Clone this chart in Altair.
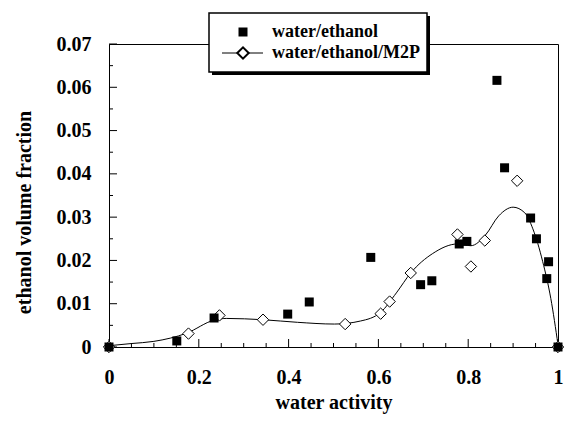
import altair as alt
import pandas as pd

# water/ethanol (filled squares)
sq_x = [0, 0.151, 0.234, 0.398, 0.446, 0.583, 0.694, 0.719, 0.780, 0.797, 0.864, 0.881, 0.939, 0.952, 0.975, 0.979, 1.0]
sq_y = [0, 0.0014, 0.0067, 0.0076, 0.0104, 0.0207, 0.0144, 0.0153, 0.0238, 0.0244, 0.0616, 0.0414, 0.0298, 0.0250, 0.0158, 0.0197, 0.0]

# water/ethanol/M2P (open diamonds)
dia_x = [0, 0.177, 0.246, 0.343, 0.526, 0.605, 0.625, 0.672, 0.776, 0.806, 0.837, 0.909, 1.0]
dia_y = [0, 0.0031, 0.0073, 0.0063, 0.0053, 0.0077, 0.0105, 0.0171, 0.0260, 0.0186, 0.0246, 0.0384, 0.0]

# fitted curve for water/ethanol/M2P
cur_x = [0, 0.05, 0.1, 0.173, 0.234, 0.261, 0.343, 0.42, 0.502, 0.56, 0.605, 0.64, 0.672, 0.721, 0.776,
         0.806, 0.838, 0.868, 0.90, 0.926, 0.944, 0.966, 0.984, 1.0]
cur_y = [0.0003, 0.0008, 0.0013, 0.0032, 0.0062, 0.0066, 0.0063, 0.0057, 0.0053, 0.0060, 0.0080, 0.0125,
         0.0171, 0.0216, 0.0238, 0.0234, 0.0258, 0.0303, 0.0323, 0.0310, 0.0273, 0.0197, 0.0112, 0.0005]

x_major = [0, 0.2, 0.4, 0.6, 0.8, 1.0]
x_minor = [0.05, 0.1, 0.15, 0.25, 0.3, 0.35, 0.45, 0.5, 0.55, 0.65, 0.7, 0.75, 0.85, 0.9, 0.95]
y_major = [0, 0.01, 0.02, 0.03, 0.04, 0.05, 0.06, 0.07]
y_minor = [0.005, 0.015, 0.025, 0.035, 0.045, 0.055, 0.065]

legend_labels = ["water/ethanol", "water/ethanol/M2P"]

W, H = 449, 303
L0, T0 = 101, 36
FONT = "Liberation Serif"

sq = pd.DataFrame({"x": sq_x, "y": sq_y})
dia = pd.DataFrame({"x": dia_x, "y": dia_y})
cur = pd.DataFrame({"x": cur_x, "y": cur_y})

xs = alt.Scale(domain=[0, 1], nice=False)
ys = alt.Scale(domain=[0, 0.07], nice=False)

xaxis = alt.Axis(values=x_major, format="~g", title="water activity", ticks=False, grid=False,
                 labelFont=FONT, labelFontSize=20, labelFontWeight="bold", labelColor="black",
                 labelPadding=20, titleFont=FONT, titleFontSize=20, titleFontWeight="bold",
                 titleColor="black", titlePadding=5, domainColor="black", labelFlush=False)
yaxis = alt.Axis(values=y_major, format="~g", title="ethanol volume fraction", ticks=False, grid=False,
                 labelFont=FONT, labelFontSize=20, labelFontWeight="bold", labelColor="black",
                 labelPadding=18, titleFont=FONT, titleFontSize=20, titleFontWeight="bold",
                 titleColor="black", titlePadding=22, titleY=168, domainColor="black", labelFlush=False)

line = alt.Chart(cur).mark_line(color="black", strokeWidth=1, interpolate="monotone").encode(
    x=alt.X("x:Q", scale=xs, axis=xaxis),
    y=alt.Y("y:Q", scale=ys, axis=yaxis),
)
diam = alt.Chart(dia).mark_point(shape="diamond", filled=True, fill="white", stroke="black",
                                 strokeWidth=1, size=130, opacity=1).encode(
    x=alt.X("x:Q", scale=xs), y=alt.Y("y:Q", scale=ys))
squares = alt.Chart(sq).mark_point(shape="square", filled=True, color="black", size=81, opacity=1).encode(
    x=alt.X("x:Q", scale=xs), y=alt.Y("y:Q", scale=ys))

xmaj = alt.Chart(pd.DataFrame({"t": x_major})).mark_rule(color="black").encode(
    x=alt.X("t:Q", scale=xs), y=alt.value(H), y2=alt.value(H - 8))
xmin = alt.Chart(pd.DataFrame({"t": x_minor})).mark_rule(color="black").encode(
    x=alt.X("t:Q", scale=xs), y=alt.value(H), y2=alt.value(H - 4))
ymaj = alt.Chart(pd.DataFrame({"t": y_major})).mark_rule(color="black").encode(
    y=alt.Y("t:Q", scale=ys), x=alt.value(0), x2=alt.value(8))
ymin = alt.Chart(pd.DataFrame({"t": y_minor})).mark_rule(color="black").encode(
    y=alt.Y("t:Q", scale=ys), x=alt.value(0), x2=alt.value(4))

# legend positions relative to plot origin
ox = 111 - (L0 + 8)
oy = 44 - (T0 + 8)
one = pd.DataFrame({"a": [0]})
shadow = alt.Chart(one).mark_rect(fill="black").encode(
    x=alt.value(101 + ox), x2=alt.value(319 + ox), y=alt.value(-28 + oy), y2=alt.value(31 + oy))
box = alt.Chart(one).mark_rect(fill="white", stroke="black", strokeWidth=1.5).encode(
    x=alt.value(98 + ox), x2=alt.value(316 + ox), y=alt.value(-31 + oy), y2=alt.value(28 + oy))
leg_sq = alt.Chart(one).mark_point(shape="square", filled=True, color="black", size=81, opacity=1).encode(
    x=alt.value(132 + ox), y=alt.value(-12 + oy))
leg_line = alt.Chart(one).mark_rule(color="black").encode(
    x=alt.value(111 + ox), x2=alt.value(152 + ox), y=alt.value(9 + oy))
leg_dia = alt.Chart(one).mark_point(shape="diamond", filled=True, fill="white", stroke="black",
                                    size=130, opacity=1).encode(x=alt.value(132 + ox), y=alt.value(9 + oy))
leg_t1 = alt.Chart(pd.DataFrame({"t": [legend_labels[0]]})).mark_text(
    font=FONT, fontSize=18, fontWeight="bold", align="left", baseline="middle", color="black").encode(
    x=alt.value(161 + ox), y=alt.value(-12 + oy), text="t:N")
leg_t2 = alt.Chart(pd.DataFrame({"t": [legend_labels[1]]})).mark_text(
    font=FONT, fontSize=18, fontWeight="bold", align="left", baseline="middle", color="black").encode(
    x=alt.value(161 + ox), y=alt.value(9 + oy), text="t:N")

chart = alt.layer(line, xmaj, xmin, ymaj, ymin, diam, squares,
                  shadow, box, leg_sq, leg_line, leg_dia, leg_t1, leg_t2).properties(
    width=W, height=H,
    background="white",
    autosize=alt.AutoSizeParams(type="none"),
    padding={"left": L0, "top": T0, "right": 556 - L0 - W, "bottom": 406 - T0 - H},
).configure_view(stroke="black", strokeWidth=1)

chart.save("out.html", embed_options={"renderer": "svg", "actions": False})
